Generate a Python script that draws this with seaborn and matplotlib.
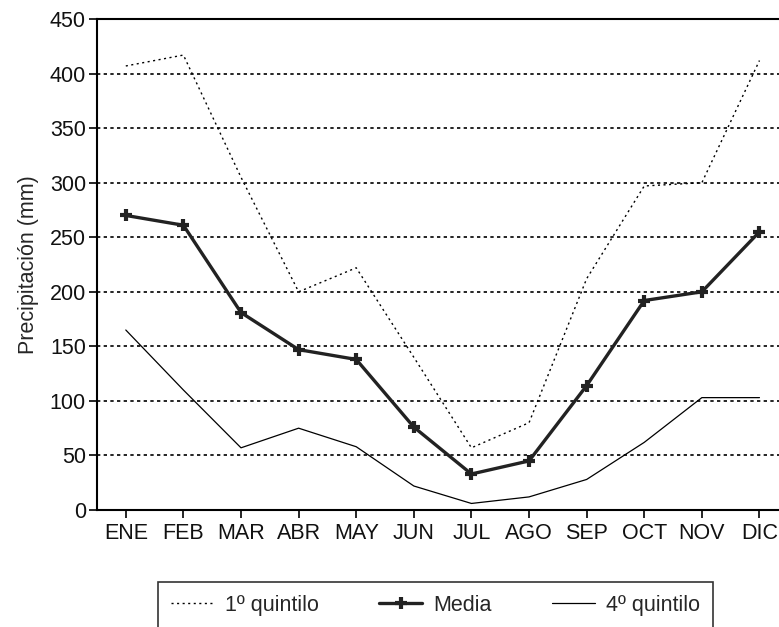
import matplotlib
matplotlib.use("Agg")
import matplotlib.pyplot as plt
import seaborn as sns
import pandas as pd

sns.set_style("white")
plt.rcParams['font.family'] = ['Liberation Sans', 'DejaVu Sans']

meses = ["ENE", "FEB", "MAR", "ABR", "MAY", "JUN", "JUL", "AGO", "SEP", "OCT", "NOV", "DIC"]
quintil_1 = [407, 417, 305, 200, 222, 140, 57, 80, 212, 297, 300, 412]
media = [270, 261, 181, 147, 138, 76, 33, 45, 114, 192, 200, 255]
quintil_4 = [165, 110, 57, 75, 58, 22, 6, 12, 28, 62, 103, 103]

df = pd.DataFrame({"x": range(len(meses)), "q1": quintil_1, "media": media, "q4": quintil_4})

fig = plt.figure(figsize=(7.79, 6.27), dpi=100)
ax = fig.add_axes([0.1245, 0.1866, 0.88, 0.783])

# rejilla punteada
for v in range(50, 450, 50):
    ax.axhline(v, color="black", lw=1.2, ls=(0, (2, 2)), zorder=0)

sns.lineplot(data=df, x="x", y="q1", ax=ax, color="black", lw=1.0, ls=(0, (1.5, 2.5)),
             label="1º quintilo")
sns.lineplot(data=df, x="x", y="media", ax=ax, color="#222222", lw=2.4, marker="+",
             markersize=9, markeredgewidth=3, markeredgecolor="#222222", label="Media")
sns.lineplot(data=df, x="x", y="q4", ax=ax, color="black", lw=0.9, label="4º quintilo")

ax.set_xlim(-0.5, 11.4)
ax.set_ylim(0, 450)
ax.set_xticks(range(len(meses)))
ax.set_xticklabels(meses)
ax.set_yticks(range(0, 451, 50))
ax.set_xlabel("")
ax.set_ylabel("Precipitación (mm)", fontsize=15.5, labelpad=8)
ax.tick_params(axis="both", labelsize=15.5, length=6, width=1.2, direction="out", color="black",
               bottom=True, left=True, labelcolor="#111111")
ax.tick_params(axis="x", pad=3)
ax.tick_params(axis="y", pad=2)
for side in ["left", "bottom", "top"]:
    ax.spines[side].set_color("black")
    ax.spines[side].set_linewidth(1.5)
ax.spines["right"].set_visible(False)

ax.legend_.remove()
h, l = ax.get_legend_handles_labels()
leg = fig.legend(h, l, loc="upper center", bbox_to_anchor=(0.559, 0.072), ncol=3,
                 frameon=True, fancybox=False, edgecolor="black", fontsize=15.5,
                 handlelength=2.0, handletextpad=0.5, columnspacing=2.8, borderpad=0.6,
                 borderaxespad=0)
leg.get_frame().set_linewidth(1.2)

fig.savefig("out.png", dpi=100)
